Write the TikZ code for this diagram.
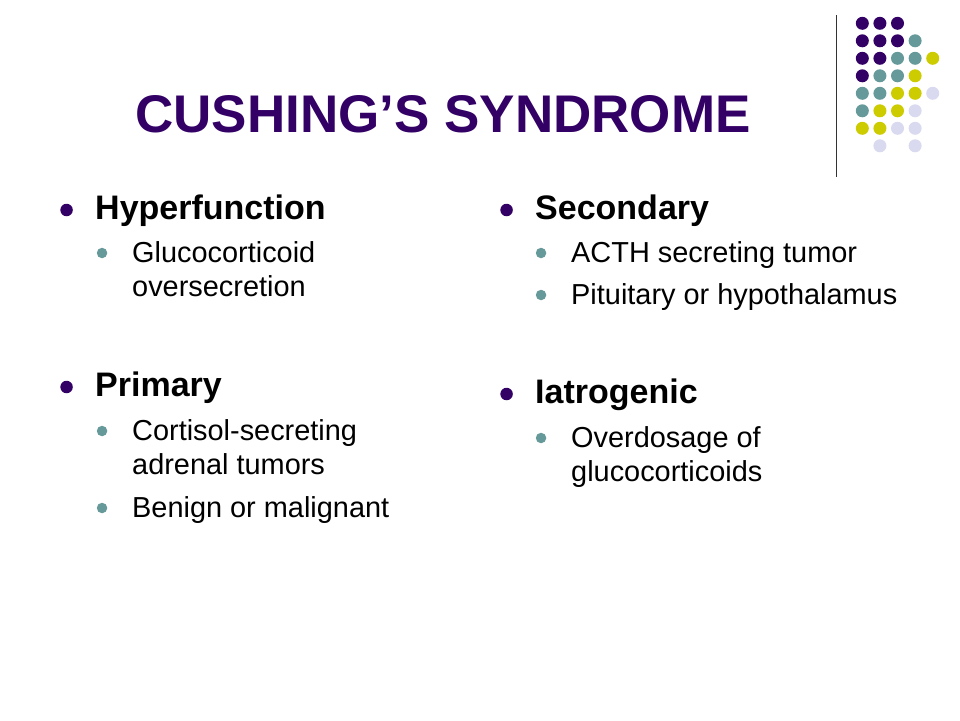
\documentclass[tikz,border=0pt]{standalone}
\usepackage{fontspec}
\setmainfont{Liberation Sans}
\usetikzlibrary{positioning}
\definecolor{dpurple}{RGB}{51,0,102}
\definecolor{dteal}{RGB}{102,153,153}
\definecolor{dyellow}{RGB}{204,204,0}
\definecolor{dlilac}{RGB}{217,217,240}
\tikzset{
  headline/.style={anchor=base, inner sep=0, text=dpurple, font=\fontsize{53}{60}\selectfont\bfseries},
  lvlone/.style={anchor=base west, inner sep=0, font=\fontsize{34}{40}\selectfont\bfseries},
  lvltwo/.style={anchor=base west, inner sep=0, font=\fontsize{28.9}{34}\selectfont},
  bulletone/.style={circle, fill=dpurple, inner sep=0, minimum size=12.5pt, yshift=9pt},
  bullettwo/.style={circle, fill=dteal, inner sep=0, minimum size=10.5pt, yshift=9pt},
}

\begin{document}
\begin{tikzpicture}[x=1pt, y=-1pt]
            \useasboundingbox [fill=white] (0,0) rectangle (960,720);
            % title
            \node [headline] (title) at (443,132) {CUSHING’S SYNDROME};
            % corner dots
            \draw [black!80, line width=1pt] (836.7,15) -- (836.7,177);
            \foreach \i/\j/\c in {0/0/dpurple, 1/0/dpurple, 2/0/dpurple,
                                  0/1/dpurple, 1/1/dpurple, 2/1/dpurple, 3/1/dteal,
                                  0/2/dpurple, 1/2/dpurple, 2/2/dteal, 3/2/dteal, 4/2/dyellow,
                                  0/3/dpurple, 1/3/dteal, 2/3/dteal, 3/3/dyellow,
                                  0/4/dteal, 1/4/dteal, 2/4/dyellow, 3/4/dyellow, 4/4/dlilac,
                                  0/5/dteal, 1/5/dyellow, 2/5/dyellow, 3/5/dlilac,
                                  0/6/dyellow, 1/6/dyellow, 2/6/dlilac, 3/6/dlilac,
                                  1/7/dlilac, 3/7/dlilac}
              \fill [\c] (862.3+17.6*\i, 23.3+17.5*\j) circle (6.5pt);
            % left column
            \node [lvlone] (hyp) at (95,219) {Hyperfunction};
            \node [bulletone, left=22pt of hyp.base west] (hypb) {};
            \node [lvltwo] (glu) at (132,262) {Glucocorticoid};
            \node [lvltwo, yshift=-34pt] (over) at (glu.base west) {oversecretion};
            \node [bullettwo, left=24.5pt of glu.base west] (glub) {};
            \node [lvlone] (prim) at (95,396) {Primary};
            \node [bulletone, left=22pt of prim.base west] (primb) {};
            \node [lvltwo] (cort) at (132,440) {Cortisol-secreting};
            \node [lvltwo, yshift=-34pt] (adr) at (cort.base west) {adrenal tumors};
            \node [bullettwo, left=24.5pt of cort.base west] (cortb) {};
            \node [lvltwo] (ben) at (132,517) {Benign or malignant};
            \node [bullettwo, left=24.5pt of ben.base west] (benb) {};
            % right column
            \node [lvlone] (sec) at (535,219) {Secondary};
            \node [bulletone, left=22pt of sec.base west] (secb) {};
            \node [lvltwo] (acth) at (571,262) {ACTH secreting tumor};
            \node [bullettwo, left=24.5pt of acth.base west] (acthb) {};
            \node [lvltwo] (pit) at (571,304) {Pituitary or hypothalamus};
            \node [bullettwo, left=24.5pt of pit.base west] (pitb) {};
            \node [lvlone] (iat) at (535,403) {Iatrogenic};
            \node [bulletone, left=22pt of iat.base west] (iatb) {};
            \node [lvltwo] (dose) at (571,447) {Overdosage of};
            \node [lvltwo, yshift=-34pt] (gluc) at (dose.base west) {glucocorticoids};
            \node [bullettwo, left=24.5pt of dose.base west] (doseb) {};
        \end{tikzpicture}
\end{document}
